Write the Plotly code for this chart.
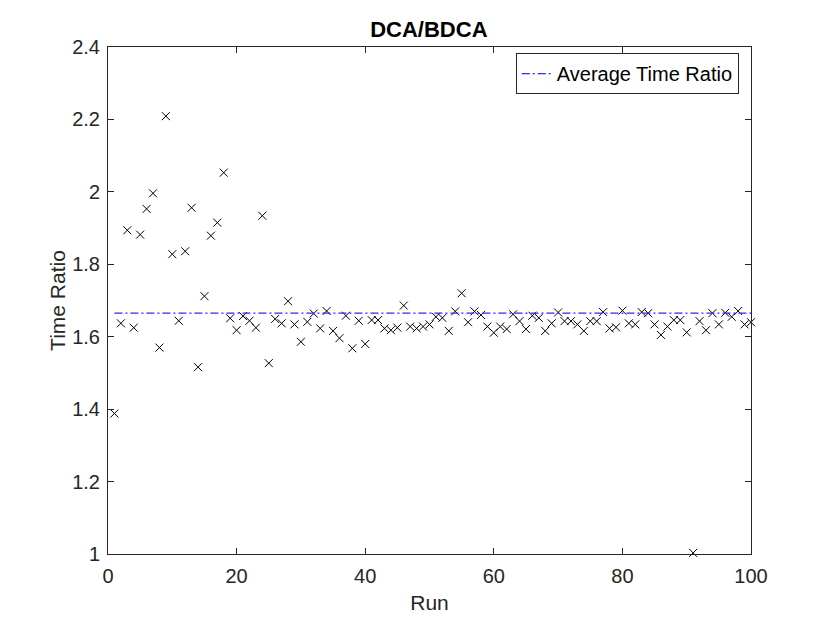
import plotly.graph_objects as go

# run index and DCA/BDCA time ratio per run
runs = list(range(1, 101))
time_ratio = [
    1.388, 1.637, 1.894, 1.625, 1.882, 1.953, 1.996, 1.570, 2.209, 1.828,
    1.644, 1.836, 1.956, 1.516, 1.712, 1.879, 1.915, 2.053, 1.651, 1.618,
    1.657, 1.644, 1.625, 1.934, 1.527, 1.649, 1.637, 1.698, 1.634, 1.586,
    1.641, 1.664, 1.623, 1.671, 1.616, 1.596, 1.658, 1.568, 1.644, 1.580,
    1.646, 1.646, 1.623, 1.618, 1.625, 1.686, 1.628, 1.623, 1.628, 1.634,
    1.655, 1.652, 1.616, 1.670, 1.720, 1.640, 1.670, 1.660, 1.628, 1.611,
    1.628, 1.621, 1.662, 1.643, 1.621, 1.658, 1.652, 1.616, 1.637, 1.667,
    1.643, 1.643, 1.634, 1.616, 1.643, 1.643, 1.668, 1.623, 1.626, 1.672,
    1.637, 1.634, 1.668, 1.665, 1.634, 1.605, 1.628, 1.646, 1.646, 1.612,
    1.003, 1.643, 1.618, 1.665, 1.634, 1.666, 1.655, 1.671, 1.634, 1.640,
]
avg_x = [1, 100]
avg_ratio = [1.665, 1.665]

x_ticks = [0, 20, 40, 60, 80, 100]
y_ticks = [1, 1.2, 1.4, 1.6, 1.8, 2, 2.2, 2.4]
y_labels = ["1", "1.2", "1.4", "1.6", "1.8", "2", "2.2", "2.4"]

font = "Liberation Sans, Arial, Helvetica, sans-serif"
axcol = "#262626"

fig = go.Figure()
fig.add_trace(go.Scatter(
    x=runs, y=time_ratio, mode="markers", showlegend=False,
    marker=dict(symbol="x-thin", size=8, line=dict(color="black", width=1)),
    cliponaxis=False,
))
fig.add_trace(go.Scatter(
    x=avg_x, y=avg_ratio, mode="lines", name="Average Time Ratio",
    line=dict(color="#2a2aff", width=1.2, dash="8px,3px,2px,3px"),
))

axis_common = dict(
    showgrid=False, zeroline=False, showline=True, linecolor=axcol,
    linewidth=1, mirror="ticks", ticks="inside", ticklen=6,
    tickcolor=axcol, tickfont=dict(size=20, color=axcol, family=font),
)
fig.update_xaxes(
    range=[0, 100], tickvals=x_ticks, ticklabelstandoff=4,
    title=dict(text="Run", font=dict(size=21, color=axcol, family=font), standoff=9),
    **axis_common
)
fig.update_yaxes(
    range=[1, 2.4], tickvals=y_ticks, ticktext=y_labels, ticklabelstandoff=3,
    title=dict(text="Time Ratio", font=dict(size=21, color=axcol, family=font), standoff=0),
    **axis_common
)
# the page body adds an 8px margin, so the figure is a bit smaller than the window
fig.update_layout(
    width=822, height=615,
    margin=dict(l=100, r=79, t=39, b=69),
    plot_bgcolor="white", paper_bgcolor="white",
    font=dict(family=font, color=axcol),
    title=dict(text="<b>DCA/BDCA</b>", x=0.512, xanchor="center", y=0.965,
               yanchor="middle", font=dict(size=22, color="black", family=font)),
    legend=dict(x=0.981, y=0.988, xanchor="right", yanchor="top",
                bgcolor="white", bordercolor=axcol, borderwidth=1,
                font=dict(size=20, color="black", family=font)),
)

fig.write_html("out.html")
